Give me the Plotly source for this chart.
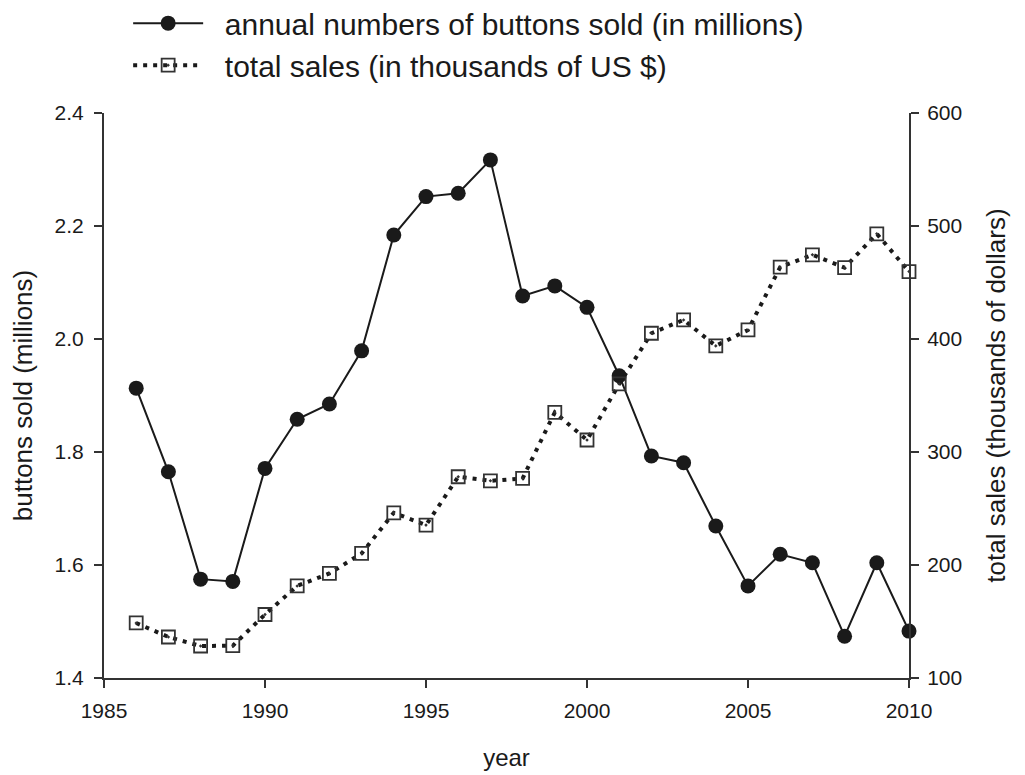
import plotly.graph_objects as go

years = list(range(1986, 2011))
buttons_sold = [1.913, 1.765, 1.575, 1.571, 1.771, 1.858, 1.885, 1.979, 2.184, 2.252,
                2.258, 2.317, 2.076, 2.094, 2.056, 1.935, 1.793, 1.781, 1.669, 1.563,
                1.619, 1.604, 1.474, 1.604, 1.483]
total_sales = [148.7, 136.3, 128.3, 128.6, 156.2, 181.5, 192.5, 210.2, 246.2, 235.3,
               278.1, 274.5, 276.6, 335.1, 310.6, 360.2, 405.1, 416.9, 393.9, 408.0,
               463.6, 474.5, 463.2, 493.1, 459.7]
series_names = ["annual numbers of buttons sold (in millions)",
                "total sales (in thousands of US $)"]
x_ticks = [1985, 1990, 1995, 2000, 2005, 2010]
left_ticks = [1.4, 1.6, 1.8, 2.0, 2.2, 2.4]
right_ticks = [100, 200, 300, 400, 500, 600]

INK = "#1a1a1a"
FONT = "Liberation Sans"
PAD = "\u00a0\u00a0"  # small gap between legend symbol and text

fig = go.Figure()
fig.add_trace(go.Scatter(
    x=years, y=buttons_sold, name=PAD + series_names[0],
    mode="lines+markers",
    line=dict(color=INK, width=2),
    marker=dict(symbol="circle", size=15, color=INK),
    cliponaxis=False, yaxis="y",
))
fig.add_trace(go.Scatter(
    x=years, y=total_sales, name=PAD + series_names[1],
    mode="lines+markers",
    line=dict(color=INK, width=4, dash="4px,6px"),
    marker=dict(symbol="square-open-dot", size=13, color="#333333",
                line=dict(width=1.8, color="#333333")),
    cliponaxis=False, yaxis="y2",
))

axis_common = dict(
    showgrid=False, zeroline=False, showline=True, linecolor="#333333", linewidth=2,
    ticks="outside", ticklen=8, tickwidth=2, tickcolor="#333333",
    tickfont=dict(family=FONT, size=21, color=INK),
)

# page body has an 8px margin, so the figure is drawn 8px smaller with 8px less top/left margin
fig.update_layout(
    width=1017, height=767,
    margin=dict(l=96, r=116, t=105, b=97, autoexpand=False),
    paper_bgcolor="white", plot_bgcolor="white",
    font=dict(family=FONT, color=INK),
    xaxis=dict(range=[1985, 2010], tickvals=x_ticks, automargin=False, ticklabelstandoff=5,
               title=dict(text="year", font=dict(family=FONT, size=24, color=INK), standoff=28),
               **axis_common),
    yaxis=dict(range=[1.4, 2.4], tickvals=left_ticks, tickformat=".1f", automargin=False,
               ticklabelstandoff=6,
               title=dict(text="buttons sold (millions)", font=dict(family=FONT, size=26, color=INK), standoff=15),
               **axis_common),
    yaxis2=dict(range=[100, 600], tickvals=right_ticks, overlaying="y", side="right", anchor="x",
                automargin=False, ticklabelstandoff=4,
                title=dict(text="total sales (thousands of dollars)", font=dict(family=FONT, size=26, color=INK), standoff=26),
                **axis_common),
    showlegend=True,
    legend=dict(x=0.03, y=1.205, xanchor="left", yanchor="top",
                font=dict(family=FONT, size=30, color=INK),
                itemwidth=70, bgcolor="rgba(0,0,0,0)", tracegroupgap=0),
)

fig.write_html("out.html")
